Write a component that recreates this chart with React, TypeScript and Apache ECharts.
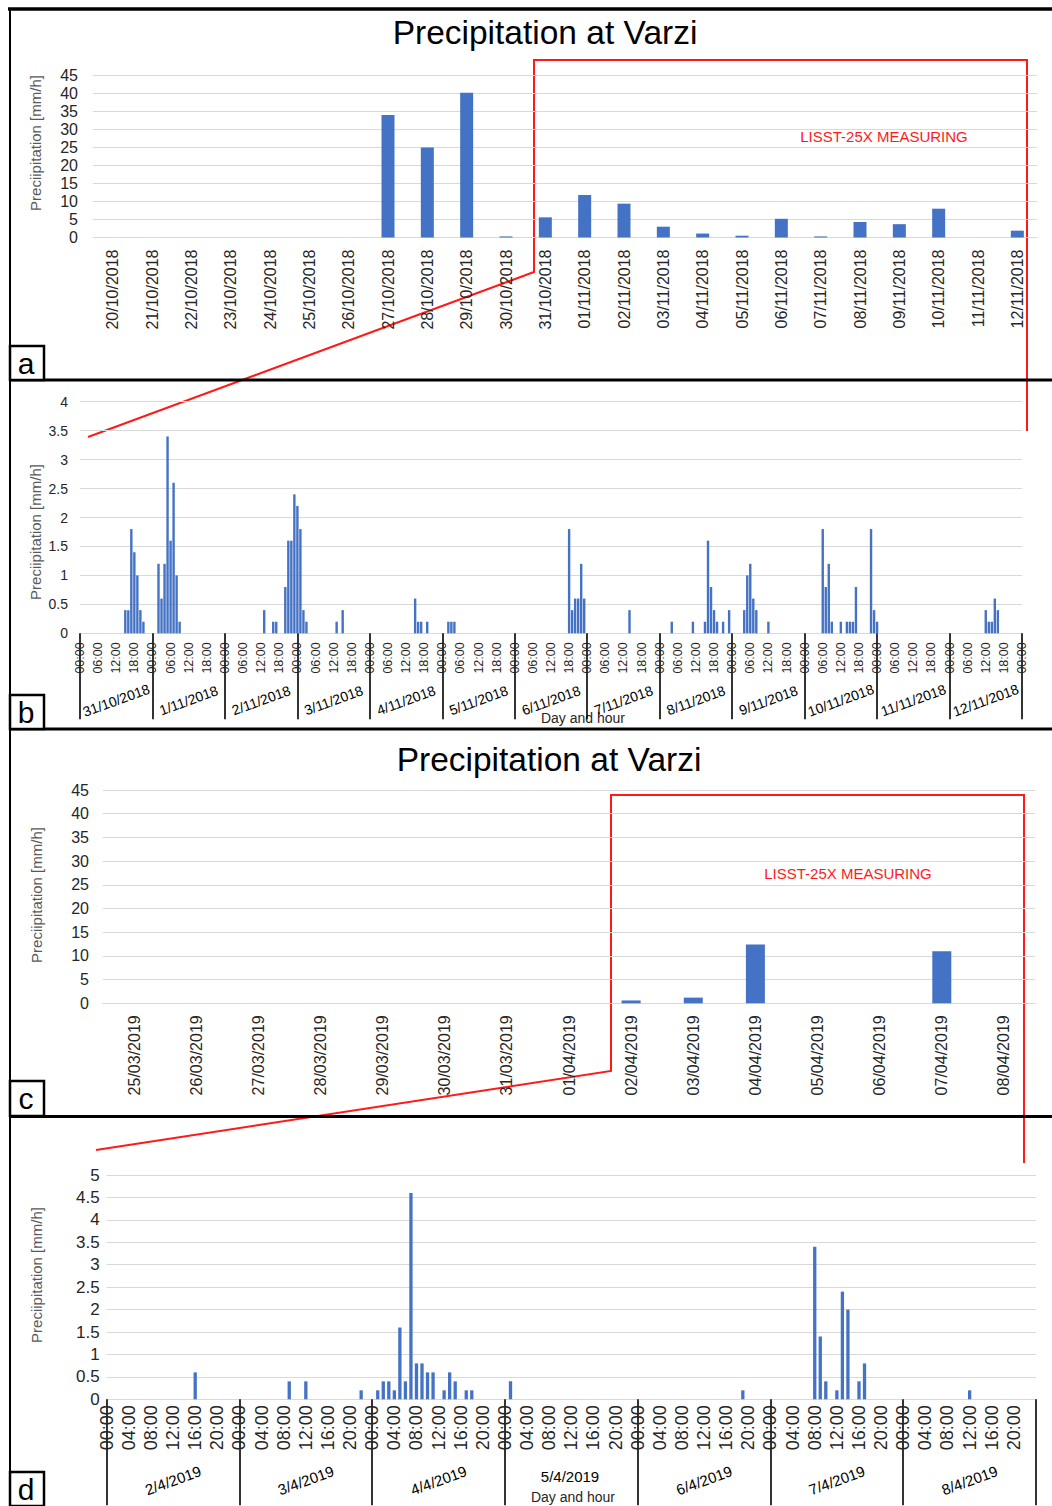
import React, { useEffect, useRef } from 'react';
import * as echarts from 'echarts';

const FONT = '"Liberation Sans", Arial, Helvetica, sans-serif';
const BAR_COLOR = '#4472C4';
const GRID_COLOR = '#d9d9d9';
const LABEL_COLOR = '#262626';
const RED = '#ff1a1a';

const chartTitle = 'Precipitation at Varzi';
const yTitle = 'Preciipitation [mm/h]';
const xTitle = 'Day and hour';
const measuringNote = 'LISST-25X MEASURING';
const panelLetters = ['a', 'b', 'c', 'd'];

// Daily precipitation, autumn 2018 event
const aDates = [
  '20/10/2018', '21/10/2018', '22/10/2018', '23/10/2018', '24/10/2018', '25/10/2018',
  '26/10/2018', '27/10/2018', '28/10/2018', '29/10/2018', '30/10/2018', '31/10/2018',
  '01/11/2018', '02/11/2018', '03/11/2018', '04/11/2018', '05/11/2018', '06/11/2018',
  '07/11/2018', '08/11/2018', '09/11/2018', '10/11/2018', '11/11/2018', '12/11/2018',
];
const aPrecip = [0, 0, 0, 0, 0, 0, 0, 34, 25, 40.2, 0.3, 5.6, 11.8, 9.4, 3.0, 1.1, 0.5, 5.2, 0.3, 4.3, 3.7, 8.0, 0, 1.9];

// Hourly precipitation during the autumn 2018 measuring window
// [hours since 31/10/2018 00:00, mm/h]
const bDays = [
  '31/10/2018', '1/11/2018', '2/11/2018', '3/11/2018', '4/11/2018', '5/11/2018', '6/11/2018',
  '7/11/2018', '8/11/2018', '9/11/2018', '10/11/2018', '11/11/2018', '12/11/2018',
];
const bRainfall: [number, number][] = [
  [15, 0.4], [16, 0.4], [17, 1.8], [18, 1.4], [19, 1.0], [20, 0.4], [21, 0.2],
  [26, 1.2], [27, 0.6], [28, 1.2], [29, 3.4], [30, 1.6], [31, 2.6], [32, 1.0], [33, 0.2],
  [61, 0.4], [64, 0.2], [65, 0.2], [68, 0.8], [69, 1.6], [70, 1.6], [71, 2.4], [72, 2.2], [73, 1.8], [74, 0.4], [75, 0.2],
  [85, 0.2], [87, 0.4],
  [111, 0.6], [112, 0.2], [113, 0.2], [115, 0.2],
  [122, 0.2], [123, 0.2], [124, 0.2],
  [162, 1.8], [163, 0.4], [164, 0.6], [165, 0.6], [166, 1.2], [167, 0.6],
  [182, 0.4],
  [196, 0.2], [203, 0.2], [207, 0.2], [208, 1.6], [209, 0.8], [210, 0.4], [211, 0.2], [213, 0.2], [215, 0.4],
  [220, 0.4], [221, 1.0], [222, 1.2], [223, 0.6], [224, 0.4], [228, 0.2],
  [246, 1.8], [247, 0.8], [248, 1.2], [249, 0.2], [252, 0.2], [254, 0.2], [255, 0.2], [256, 0.2], [257, 0.8],
  [262, 1.8], [263, 0.4], [264, 0.2],
  [300, 0.4], [301, 0.2], [302, 0.2], [303, 0.6], [304, 0.4],
];

// Daily precipitation, spring 2019 event
const cDates = [
  '25/03/2019', '26/03/2019', '27/03/2019', '28/03/2019', '29/03/2019', '30/03/2019', '31/03/2019',
  '01/04/2019', '02/04/2019', '03/04/2019', '04/04/2019', '05/04/2019', '06/04/2019', '07/04/2019', '08/04/2019',
];
const cPrecip = [0, 0, 0, 0, 0, 0, 0, 0, 0.6, 1.2, 12.4, 0, 0, 11.0, 0];

// Hourly precipitation during the spring 2019 measuring window
// [hours since 2/4/2019 00:00, mm/h]
const dDays = ['2/4/2019', '3/4/2019', '4/4/2019', '5/4/2019', '6/4/2019', '7/4/2019', '8/4/2019'];
const dRainfall: [number, number][] = [
  [16, 0.6], [33, 0.4], [36, 0.4], [46, 0.2],
  [49, 0.2], [50, 0.4], [51, 0.4], [52, 0.2], [53, 1.6], [54, 0.4], [55, 4.6], [56, 0.8], [57, 0.8],
  [58, 0.6], [59, 0.6], [61, 0.2], [62, 0.6], [63, 0.4], [65, 0.2], [66, 0.2], [73, 0.4],
  [115, 0.2],
  [128, 3.4], [129, 1.4], [130, 0.4], [132, 0.2], [133, 2.4], [134, 2.0], [136, 0.4], [137, 0.8],
  [156, 0.2],
];

const hourLabel = (v: number) => String(((v % 24) + 24) % 24).padStart(2, '0') + ':00';

const valueY = (gridIndex: number, max: number, interval: number, fontSize: number, margin: number) => ({
  type: 'value',
  gridIndex,
  min: 0,
  max,
  interval,
  axisLine: { show: false },
  axisTick: { show: false },
  splitLine: { show: true, lineStyle: { color: GRID_COLOR, width: 1.2 } },
  axisLabel: { fontFamily: FONT, fontSize, color: LABEL_COLOR, margin },
});

const dateX = (gridIndex: number, data: string[]) => ({
  type: 'category',
  gridIndex,
  data,
  boundaryGap: true,
  axisLine: { show: true, lineStyle: { color: GRID_COLOR, width: 1.2 } },
  axisTick: { show: false },
  axisLabel: { interval: 0, rotate: 90, fontFamily: FONT, fontSize: 16, color: LABEL_COLOR, margin: 12 },
});

const hourX = (gridIndex: number, max: number, interval: number, fontSize: number, margin: number, showMax: boolean) => ({
  type: 'value',
  gridIndex,
  min: 0,
  max,
  interval,
  axisLine: { show: true, onZero: false, lineStyle: { color: GRID_COLOR, width: 1.2 } },
  axisTick: { show: false },
  splitLine: { show: false },
  axisLabel: {
    rotate: 90,
    fontFamily: FONT,
    fontSize,
    color: LABEL_COLOR,
    margin,
    showMinLabel: true,
    showMaxLabel: showMax,
    formatter: hourLabel,
  },
});

const dayX = (gridIndex: number, data: string[], offset: number, tickLen: number, margin: number, fontSize: number, hidden: string | null) => ({
  type: 'category',
  gridIndex,
  data,
  position: 'bottom',
  offset,
  boundaryGap: true,
  axisLine: { show: false },
  axisTick: { show: true, interval: 0, length: tickLen, lineStyle: { color: '#000', width: 1.6 } },
  axisLabel: {
    interval: 0,
    rotate: 20,
    align: 'center',
    verticalAlign: 'middle',
    fontFamily: FONT,
    fontSize,
    color: '#000',
    margin,
    formatter: (v: string) => (v === hidden ? '' : v),
  },
});

const text = (x: number, y: number, t: string, fontSize: number, fill: string, rotation = 0) => ({
  type: 'text',
  x,
  y,
  rotation,
  silent: true,
  style: { text: t, fontFamily: FONT, fontSize, fill, align: 'center', verticalAlign: 'middle' },
});

const line = (x1: number, y1: number, x2: number, y2: number, width: number, color = '#000') => ({
  type: 'line',
  silent: true,
  shape: { x1, y1, x2, y2 },
  style: { stroke: color, lineWidth: width },
});

const redPath = (points: number[][]) => ({
  type: 'polyline',
  silent: true,
  shape: { points },
  style: { stroke: RED, lineWidth: 2, fill: null },
});

const letterBox = (x: number, y: number, h: number, letter: string) => [
  {
    type: 'rect',
    silent: true,
    shape: { x, y, width: 34, height: h },
    style: { fill: '#fff', stroke: '#000', lineWidth: 2.5 },
  },
  text(x + 16, y + h / 2, letter, 30, '#000'),
];

export default function App() {
  const ref = useRef<HTMLDivElement>(null);

  useEffect(() => {
    if (!ref.current) return;
    const chart = echarts.init(ref.current, null, { renderer: 'svg' });

    const option = {
      animation: false,
      backgroundColor: '#fff',
      grid: [
        { left: 93, top: 75.5, width: 944, height: 162 },
        { left: 80, top: 401.7, width: 942, height: 231.6 },
        { left: 103, top: 790, width: 932, height: 213.3 },
        { left: 106.7, top: 1175, width: 929.3, height: 224.3 },
      ],
      xAxis: [
        dateX(0, aDates),
        hourX(1, 312, 6, 12.5, 9, true),
        dayX(1, bDays, 8, 86, 59, 14, null),
        dateX(2, cDates),
        hourX(3, 168, 4, 18, 6, false),
        dayX(3, dDays, 2, 106, 79, 15, dDays[3]),
      ],
      yAxis: [
        valueY(0, 45, 5, 16, 15),
        valueY(1, 4, 0.5, 14, 12),
        valueY(2, 45, 5, 16, 14),
        valueY(3, 5, 0.5, 17, 7),
      ],
      series: [
        { type: 'bar', xAxisIndex: 0, yAxisIndex: 0, data: aPrecip, barWidth: 13, itemStyle: { color: BAR_COLOR } },
        { type: 'bar', xAxisIndex: 1, yAxisIndex: 1, data: bRainfall, barWidth: 2.4, itemStyle: { color: BAR_COLOR } },
        { type: 'bar', xAxisIndex: 3, yAxisIndex: 2, data: cPrecip, barWidth: 19, itemStyle: { color: BAR_COLOR } },
        { type: 'bar', xAxisIndex: 4, yAxisIndex: 3, data: dRainfall, barWidth: 3.3, itemStyle: { color: BAR_COLOR } },
      ],
      graphic: [
        // titles and axis names
        text(545, 32, chartTitle, 33.5, '#000'),
        text(549, 759, chartTitle, 33.5, '#000'),
        text(35, 143, yTitle, 15, '#595959', Math.PI / 2),
        text(35, 532, yTitle, 15, '#595959', Math.PI / 2),
        text(36, 895, yTitle, 15, '#595959', Math.PI / 2),
        text(36, 1275, yTitle, 15, '#595959', Math.PI / 2),
        text(583, 718, xTitle, 14, '#262626'),
        text(570, 1476, dDays[3], 15, '#000'),
        text(573, 1497, xTitle, 14, '#262626'),
        // measuring window call-outs
        redPath([[88, 437], [534, 272], [534, 60], [1027, 60], [1027, 431]]),
        text(884, 136, measuringNote, 15, RED),
        redPath([[96, 1150], [611, 1071], [611, 795], [1024, 795], [1024, 1163]]),
        text(848, 873, measuringNote, 15, RED),
        // panel frame
        line(8, 9, 1052, 9, 3.5),
        line(10, 8, 10, 1506, 2),
        line(10, 380, 1052, 380, 3),
        line(10, 729, 1052, 729, 3),
        line(10, 1116.5, 1052, 1116.5, 3),
        ...letterBox(10, 346, 34, panelLetters[0]),
        ...letterBox(10, 695, 34, panelLetters[1]),
        ...letterBox(10, 1081, 35, panelLetters[2]),
        ...letterBox(10, 1472, 34, panelLetters[3]),
      ],
    };

    chart.setOption(option as any);
    return () => chart.dispose();
  }, []);

  return (
    <div
      ref={ref}
      style={{ position: 'absolute', left: 0, top: 0, width: 1052, height: 1506, background: '#fff' }}
    />
  );
}
